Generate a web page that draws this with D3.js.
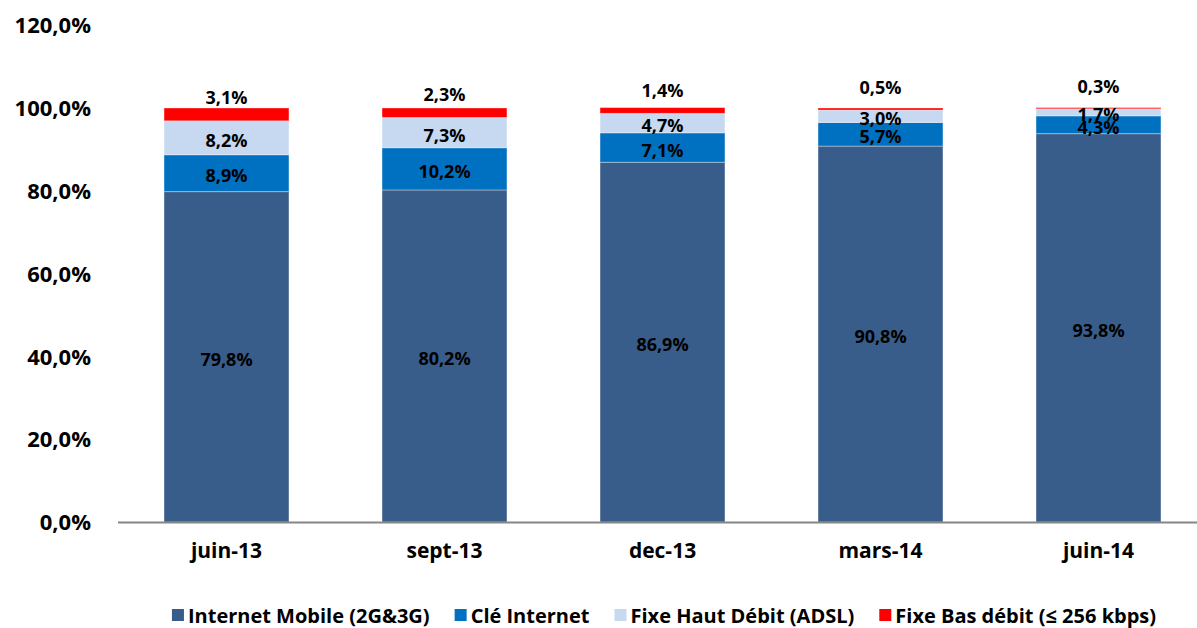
<!DOCTYPE html>
<html><head><meta charset="utf-8">
<script src="https://cdn.jsdelivr.net/npm/d3@7"></script>
<style>body{margin:0;background:#fff}svg{display:block}text{font-family:"Open Sans",sans-serif;font-weight:bold;fill:#000}</style>
</head><body><svg id="c" width="1197" height="628"></svg>
<script>
const categories = ["juin-13","sept-13","dec-13","mars-14","juin-14"];
const seriesNames = ["Internet Mobile (2G&3G)","Clé Internet","Fixe Haut Débit (ADSL)","Fixe Bas débit (≤ 256 kbps)"];
const mobile = [79.8,80.2,86.9,90.8,93.8];
const cle = [8.9,10.2,7.1,5.7,4.3];
const adsl = [8.2,7.3,4.7,3.0,1.7];
const bas = [3.1,2.3,1.4,0.5,0.3];
const yTicks = [0,20,40,60,80,100,120];
const colors = ["#385D8A","#0070C0","#C6D9F1","#FF0000"];

const svg = d3.select("#c");
const fmt = v => v.toFixed(1).replace(".",",") + "%";
const x = d3.scaleBand().domain(categories).range([117.5,1207.5]).paddingInner(0.427).paddingOuter(0.2135);
const y = d3.scaleLinear().domain([0,120]).range([522,25.2]);

const series = [mobile,cle,adsl,bas];
const rows = categories.map((c,i)=>{const o={cat:c}; seriesNames.forEach((s,j)=>o[s]=series[j][i]); return o;});
const stack = d3.stack().keys(seriesNames)(rows);

// y axis labels
const yAxis = d3.axisLeft(y).tickValues(yTicks).tickFormat(d=>d.toFixed(1).replace(".",",")+"%").tickSize(0).tickPadding(0);
const ga = svg.append("g").attr("transform","translate(91,0)").call(yAxis);
ga.select(".domain").remove();
ga.selectAll("text").style("font-size","22px").attr("font-family",null).attr("dy","0.35em");

// bars
stack.forEach((layer,j)=>{
  svg.append("g").selectAll("rect").data(layer).join("rect")
    .attr("x",d=>x(d.data.cat)).attr("width",x.bandwidth())
    .attr("y",d=>y(d[1])).attr("height",d=>Math.max(0,y(d[0])-y(d[1])))
    .attr("fill",colors[j]).attr("stroke","#ffffff").attr("stroke-opacity",0.35).attr("stroke-width",1);
});

// x axis
const xAxis = d3.axisBottom(x).tickSize(0).tickPadding(0);
const gx = svg.append("g").attr("transform","translate(0,522)").call(xAxis);
gx.select(".domain").remove();
gx.selectAll("text").style("font-size","21px").attr("font-family",null).attr("dy","0").attr("y",36);
svg.append("line").attr("x1",118).attr("x2",1197).attr("y1",522.5).attr("y2",522.5).attr("stroke","#868686").attr("stroke-width",2);

// labels
stack.forEach((layer,j)=>{
  svg.append("g").selectAll("text").data(layer).join("text")
    .attr("x",d=>x(d.data.cat)+x.bandwidth()/2)
    .attr("y",d=>{
      const v=d[1]-d[0];
      if(j===3) return y(100) - 23 + 3.9*v;
      return (y(d[0])+y(d[1]))/2 + 2;
    })
    .attr("text-anchor","middle").attr("dominant-baseline","central")
    .style("font-size","18px").text(d=>fmt(d[1]-d[0]));
});

// legend
const lg = svg.append("g");
let cx = 0;
seriesNames.forEach((s,j)=>{
  const g = lg.append("g").attr("transform",`translate(${cx},0)`);
  g.append("rect").attr("x",0).attr("y",-6).attr("width",12).attr("height",12).attr("fill",colors[j]);
  const t = g.append("text").attr("x",16).attr("y",0).attr("dominant-baseline","central").style("font-size","20px").text(s);
  const w = t.node().getComputedTextLength();
  cx += 16 + w + 25;
});
const total = cx - 25;
lg.attr("transform",`translate(${664-total/2},615)`);
</script></body></html>
